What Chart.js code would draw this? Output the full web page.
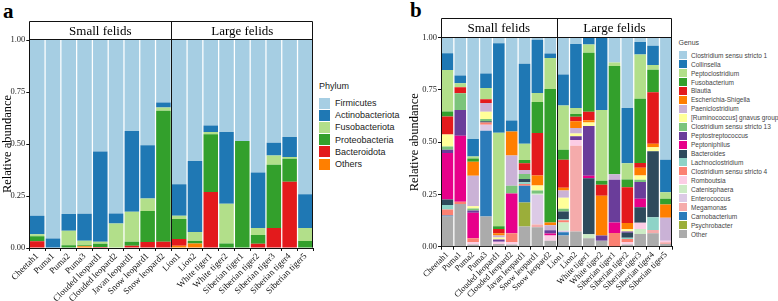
<!DOCTYPE html>
<html>
<head>
<meta charset="utf-8">
<script src="https://cdn.jsdelivr.net/npm/chart.js@4.4.1/dist/chart.umd.min.js"></script>
<style>
  body { margin:0; width:778px; height:301px; position:relative; background:#fff; overflow:hidden; }
  canvas { position:absolute; top:0; }
  .tag { position:absolute; font:bold 21px "Liberation Serif", serif; line-height:1; }
  .lg-title, .lg-item { position:absolute; font-family:"Liberation Sans", Arial, sans-serif; white-space:nowrap; }
  .lg-item { display:flex; align-items:center; }
  .lg-item span.box { display:inline-block; }
</style>
</head>
<body>
<div class="tag" style="left:3px;top:1px">a</div>
<div class="tag" style="left:410px;top:0px">b</div>
<canvas id="chartA" width="318" height="301" style="left:0px"></canvas>
<canvas id="chartB" width="271" height="301" style="left:407px"></canvas>
<div id="legendA"></div>
<div id="legendB"></div>
<script>
// ===== Data =====
const samples = ['Cheetah1','Puma1','Puma2','Puma3','Clouded leopard1','Clouded leopard2','Javan leopard1','Snow leopard1','Snow leopard2',
                 'Lion1','Lion2','White tiger1','White tiger2','Siberian tiger1','Siberian tiger2','Siberian tiger3','Siberian tiger4','Siberian tiger5'];
const groups = ['Small felids', 'Large felids'];
const yTicks = [0, 0.25, 0.5, 0.75, 1];

// panel a - phylum level
const firmicutes       = [0.845,0.954,0.837,0.835,0.536,0.834,0.437,0.506,0.300,0.693,0.582,0.411,0.442,0.486,0.637,0.494,0.466,0.742];
const actinobacteriota = [0.089,0.046,0.080,0.130,0.434,0.048,0.389,0.256,0.025,0.152,0.341,0.031,0.345,0,0.267,0.061,0.097,0.162];
const fusobacteriota   = [0.010,0,0.070,0.022,0.010,0.118,0.144,0.060,0.015,0.015,0.043,0.011,0.191,0,0.034,0.045,0.008,0.062];
const proteobacteria   = [0.024,0,0.013,0.005,0.015,0,0.019,0.149,0.630,0.097,0.012,0.278,0.022,0.514,0.041,0.304,0.111,0.034];
const bacteroidota     = [0.032,0,0,0,0.005,0,0.011,0.029,0.030,0.032,0,0.269,0,0,0.021,0.096,0.318,0];
const othersPhylum     = [0,0,0,0.008,0,0,0,0,0,0.011,0.022,0,0,0,0,0,0,0];

// panel b - genus level
const clostridiumSS1   = [0.075,0.182,0.486,0.171,0.027,0.397,0.126,0.011,0.075,0.177,0.030,0.003,0,0.120,0.337,0.022,0.038,0.585];
const collinsella      = [0.080,0.037,0.083,0.070,0.429,0.053,0.383,0.255,0.022,0.148,0.306,0.030,0.346,0,0.265,0.059,0.093,0.155];
const peptoclostridium = [0.199,0.019,0.010,0.053,0.447,0,0.077,0.043,0.148,0.212,0.029,0.040,0.338,0.016,0.078,0.212,0.022,0.032];
const fusobacterium    = [0.024,0,0.016,0,0.013,0,0.016,0.148,0.639,0.048,0.013,0.282,0.019,0.518,0.037,0.308,0.108,0.027];
const blautia          = [0.086,0.029,0,0.019,0.021,0,0.032,0.203,0,0.134,0.022,0.041,0.053,0,0.171,0.022,0.247,0];
const escherichia      = [0,0,0.067,0,0.010,0.115,0,0.048,0.013,0.013,0.032,0.011,0.191,0,0.029,0.037,0.016,0.064];
const paeniclostridium = [0,0,0.145,0.041,0.010,0.144,0.019,0,0.024,0.035,0.026,0,0,0.027,0,0,0,0.109];
const gnavusGroup      = [0.057,0,0.011,0.035,0.010,0,0,0.024,0,0.053,0.013,0.016,0,0,0.011,0.021,0.019,0];
const clostridiumSS13  = [0.016,0.080,0.010,0.011,0,0.037,0.024,0.016,0,0.013,0,0,0,0,0,0.011,0,0];
const peptostrepto     = [0.016,0.123,0.010,0,0.010,0,0,0,0.016,0,0.019,0.239,0.024,0.204,0.006,0.080,0,0];
const peptoniphilus    = [0.222,0.316,0.123,0,0,0.191,0,0,0.010,0,0,0.011,0,0.051,0,0.040,0,0];
const bacteroides      = [0.026,0,0,0.006,0,0,0.016,0,0,0.035,0,0.268,0,0,0.024,0.075,0.316,0];
const lachnoclostridium= [0.022,0,0,0,0,0,0.008,0,0,0.006,0,0,0,0,0.006,0,0.061,0];
const clostridiumSS4   = [0.029,0.011,0.019,0.010,0,0.043,0.008,0,0,0.011,0,0,0,0.065,0.016,0,0,0];
const romboutsia       = [0,0,0.011,0,0.011,0.011,0,0,0.024,0,0.027,0,0,0,0.011,0.029,0,0.008];
const catenisphaera    = [0,0,0,0,0,0,0,0.005,0,0.040,0,0.019,0,0,0,0.024,0,0];
const enterococcus     = [0,0,0,0.029,0,0,0,0.142,0,0.007,0,0,0,0,0,0,0,0];
const megamonas        = [0,0,0,0,0,0,0,0.013,0,0,0.410,0,0,0,0,0,0.016,0.008];
const carnobacterium   = [0.005,0,0,0.411,0,0,0.080,0,0,0.016,0,0,0,0,0,0,0,0];
const psychrobacter    = [0,0,0,0,0,0,0.115,0,0,0,0,0,0,0,0,0,0,0];
const otherGenus       = [0.144,0.204,0.010,0.144,0.013,0.010,0.097,0.093,0.029,0.053,0.073,0.041,0.029,0,0.010,0.061,0.064,0.013];

// legend order (top of stack first)
const phyla = [
  ['Firmicutes', firmicutes, '#A6CEE3'],
  ['Actinobacteriota', actinobacteriota, '#1F78B4'],
  ['Fusobacteriota', fusobacteriota, '#B2DF8A'],
  ['Proteobacteria', proteobacteria, '#33A02C'],
  ['Bacteroidota', bacteroidota, '#E31A1C'],
  ['Others', othersPhylum, '#FF7F00']
];
const genera = [
  ['Clostridium sensu stricto 1', clostridiumSS1, '#A6CEE3'],
  ['Collinsella', collinsella, '#1F78B4'],
  ['Peptoclostridium', peptoclostridium, '#B2DF8A'],
  ['Fusobacterium', fusobacterium, '#33A02C'],
  ['Blautia', blautia, '#E31A1C'],
  ['Escherichia-Shigella', escherichia, '#FF7F00'],
  ['Paeniclostridium', paeniclostridium, '#CAB2D6'],
  ['[Ruminococcus] gnavus group', gnavusGroup, '#FFFF99'],
  ['Clostridium sensu stricto 13', clostridiumSS13, '#7BC47B'],
  ['Peptostreptococcus', peptostrepto, '#6A3D9A'],
  ['Peptoniphilus', peptoniphilus, '#E7008A'],
  ['Bacteroides', bacteroides, '#2E4A5C'],
  ['Lachnoclostridium', lachnoclostridium, '#8ED3C7'],
  ['Clostridium sensu stricto 4', clostridiumSS4, '#FB8072'],
  ['Romboutsia', romboutsia, '#FCCDE5'],
  ['Catenisphaera', catenisphaera, '#CCEBC5'],
  ['Enterococcus', enterococcus, '#DCCAE6'],
  ['Megamonas', megamonas, '#F5ABAB'],
  ['Carnobacterium', carnobacterium, '#2B7BBA'],
  ['Psychrobacter', psychrobacter, '#9BAE3A'],
  ['Other', otherGenus, '#ABABAB']
];

// ===== Facet strip + frame =====
const facetFrame = {
  id: 'facetFrame',
  afterDraw(chart, args, opts) {
    const { ctx, chartArea: a } = chart;
    const L = Math.round(a.left) + 0.5, R = Math.round(a.right) - 0.5;
    const T = Math.round(opts.stripTop) + 0.5, B = Math.round(a.bottom) - 0.5;
    const M = Math.round((a.left + a.right) / 2) + 0.5;
    const S = Math.round(a.top) - 0.5;
    ctx.save();
    ctx.strokeStyle = '#111';
    ctx.lineWidth = 1;
    ctx.beginPath();
    ctx.moveTo(L, T); ctx.lineTo(R, T); ctx.lineTo(R, B);
    ctx.moveTo(L, T); ctx.lineTo(L, B);
    ctx.moveTo(M, T); ctx.lineTo(M, B);
    ctx.moveTo(L, S); ctx.lineTo(R, S);
    ctx.stroke();
    ctx.fillStyle = '#000';
    ctx.font = '13px "Liberation Serif"';
    ctx.textAlign = 'center';
    ctx.textBaseline = 'middle';
    groups.forEach((g, i) => {
      ctx.fillText(g, a.left + (a.right - a.left) * (2 * i + 1) / 4, (opts.stripTop + a.top) / 2 + 1);
    });
    ctx.restore();
  }
};

function makeChart(id, series, o) {
  const datasets = series.slice().reverse().map(([name, data, color]) => ({
    label: name, data, backgroundColor: color, borderWidth: 0,
    barPercentage: o.barPct, categoryPercentage: 1
  }));
  return new Chart(document.getElementById(id), {
    type: 'bar',
    data: { labels: samples, datasets },
    plugins: [facetFrame],
    options: {
      responsive: false, animation: false,
      layout: { padding: { top: o.top, right: o.right, left: 0, bottom: 0 } },
      plugins: { legend: { display: false }, tooltip: { enabled: false }, facetFrame: { stripTop: o.stripTop } },
      scales: {
        x: {
          stacked: true, offset: true,
          grid: { display: true, drawOnChartArea: false, tickLength: 3, color: '#111' },
          border: { color: '#111' },
          ticks: { autoSkip: false, minRotation: 45, maxRotation: 45, padding: 0, color: '#111',
                   font: { family: 'Liberation Serif', size: o.xFont } },
          afterFit: s => { s.height = o.xHeight; }
        },
        y: {
          stacked: true, min: 0, max: 1,
          afterBuildTicks: s => { s.ticks = yTicks.map(v => ({ value: v })); },
          grid: { display: true, drawOnChartArea: false, tickLength: 3, color: '#111' },
          border: { color: '#111' },
          ticks: { padding: 1, color: '#222', font: { family: 'Liberation Serif', size: 8.5 },
                   callback: v => Number(v).toFixed(2) },
          title: { display: true, text: 'Relative abundance', padding: 0, color: '#000',
                   font: { family: 'Liberation Serif', size: 12.5 } },
          afterFit: s => { s.width = o.yWidth; }
        }
      }
    }
  });
}

makeChart('chartA', phyla, { top: 40, right: 4.7, stripTop: 21, xHeight: 53, yWidth: 29.3, xFont: 9, barPct: 0.92 });
makeChart('chartB', genera, { top: 37.7, right: 5.7, stripTop: 18, xHeight: 54.3, yWidth: 34, xFont: 8.5, barPct: 0.9 });

// ===== Legends =====
function buildLegend(elId, title, series, o) {
  const el = document.getElementById(elId);
  let html = `<div class="lg-title" style="left:${o.x}px;top:${o.titleTop}px;font-size:${o.titleSize}px;color:${o.color}">${title}</div>`;
  series.forEach(([name, , color], i) => {
    html += `<div class="lg-item" style="left:${o.x}px;top:${o.top + i * o.step}px;height:${o.box}px;font-size:${o.size}px;color:${o.color}">` +
            `<span class="box" style="width:${o.box}px;height:${o.box}px;background:${color};margin-right:${o.gap}px"></span>${name}</div>`;
  });
  el.innerHTML = html;
}
buildLegend('legendA', 'Phylum', phyla, { x: 319, titleTop: 81, titleSize: 9, top: 97.5, step: 12.2, box: 11, size: 9, gap: 5, color: '#222' });
buildLegend('legendB', 'Genus', genera, { x: 678.5, titleTop: 38.5, titleSize: 7, top: 51.2, step: 8.94, box: 8, size: 6.5, gap: 4.5, color: '#444' });
</script>
</body>
</html>
